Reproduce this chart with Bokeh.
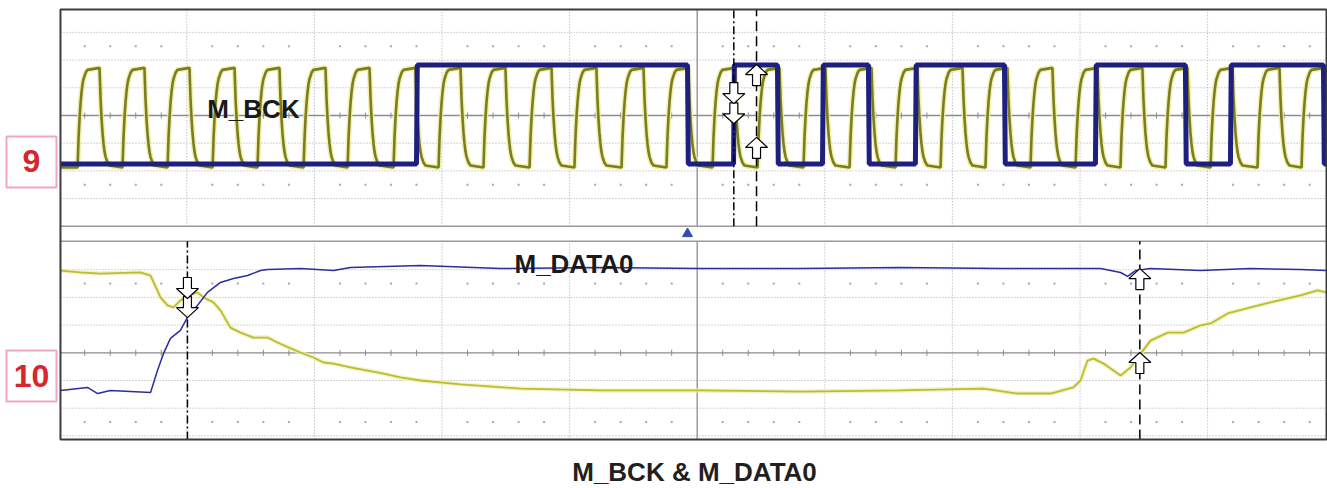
import numpy as np
from bokeh.plotting import figure
from bokeh.models import Range1d, Label
from bokeh.embed import file_html
from bokeh.resources import INLINE

# ------------------------------------------------------------------
# DATA  (x in scope divisions, centre = 0; y in divisions of each channel)
# ------------------------------------------------------------------
# Channel 9 (upper): M_BCK clock (olive) - start of each rising / falling edge
BCK_RISE = [-4.856, -4.504, -4.151, -3.798, -3.446, -3.085, -2.740, -2.380,
            -2.027, -1.675, -1.314, -0.962, -0.593, -0.241, 0.120, 0.473,
            0.833, 1.194, 1.554, 1.907, 2.259, 2.612, 2.965, 3.317, 3.670,
            4.023, 4.391, 4.736]
BCK_FALL = [-4.684, -4.332, -3.979, -3.626, -3.274, -2.913, -2.568, -2.208,
            -1.855, -1.503, -1.142, -0.790, -0.421, -0.069, 0.292, 0.645,
            1.005, 1.366, 1.726, 2.079, 2.431, 2.784, 3.137, 3.489, 3.842,
            4.195, 4.563, 4.908]
BCK_HIGH = 1.72
BCK_LOW = -1.88

# Channel 9 (upper): second (navy) trace - toggling edges, starts low
NAVY_EDGES = [-2.200, -0.076, 0.285, 0.629, 0.982, 1.342, 1.710, 2.408,
              3.121, 3.826, 4.179, 4.908]
NAVY_HIGH = 1.82
NAVY_LOW = -1.75

# Channel 10 (lower): navy trace
D_NAVY_T = [-4.989, -4.778, -4.699, -4.598, -4.284, -4.230, -4.183, -4.128,
            -4.050, -3.987, -3.917, -3.838, -3.736, -3.634, -3.524, -3.422,
            -3.367, -3.109, -2.850, -2.717, -2.168, -1.542, -0.758, 0.026,
            0.810, 1.594, 2.377, 3.161, 3.318, 3.373, 3.435, 3.553, 3.945,
            4.336, 4.728, 4.930]
D_NAVY_V = [-1.36, -1.25, -1.47, -1.36, -1.43, -0.64, -0.03, 0.52,
            0.81, 1.35, 1.71, 2.18, 2.54, 2.68, 2.79, 2.97,
            3.01, 3.04, 2.97, 3.08, 3.15, 3.04, 3.08, 3.04,
            3.04, 3.08, 3.04, 3.04, 2.90, 2.76, 2.97, 3.04, 2.97,
            3.04, 3.01, 2.97]

# Channel 10 (lower): yellow trace
D_OLIVE_T = [-4.989, -4.833, -4.676, -4.363, -4.284, -4.206, -4.151, -4.104,
             -4.050, -3.987, -3.917, -3.869, -3.791, -3.736, -3.658, -3.579,
             -3.477, -3.367, -3.289, -3.187, -3.109, -3.007, -2.929, -2.850,
             -2.717, -2.584, -2.458, -2.325, -2.168, -1.855, -1.385, -0.758,
             0.026, 0.810, 1.594, 2.245, 2.510, 2.769, 2.949, 3.004, 3.059,
             3.106, 3.184, 3.318, 3.396, 3.475, 3.553, 3.687, 3.812, 3.945,
             4.024, 4.157, 4.337, 4.493, 4.728, 4.861, 4.930]
D_OLIVE_V = [2.97, 2.90, 2.86, 2.90, 2.79, 2.00, 1.71, 1.64,
             1.89, 2.07, 2.18, 2.00, 1.82, 1.53, 0.91, 0.73,
             0.55, 0.55, 0.37, 0.16, 0.01, -0.17, -0.35, -0.39,
             -0.53, -0.64, -0.75, -0.89, -1.00, -1.14, -1.29, -1.36,
             -1.36, -1.40, -1.36, -1.29, -1.47, -1.47, -1.25, -1.00, -0.28,
             -0.21, -0.39, -0.82, -0.53, -0.03, 0.44, 0.73, 0.73, 0.99,
             1.06, 1.42, 1.64, 1.82, 2.07, 2.25, 2.18]

# cursors (dash-dot, dashed)
CURSOR_UPPER = [0.287, 0.465]
CURSOR_LOWER = [-3.995, 3.469]
# cursor markers: tip heights (channel divisions)
UP_DOWN_TIPS = [-0.30, 0.43]      # down-pointing markers on dash-dot cursor (upper)
UP_UP_TIPS = [1.84, -0.79]        # up-pointing markers on dashed cursor (upper)
LO_DOWN_TIPS = [1.27, 1.96]       # lower, dash-dot cursor
LO_UP_TIPS = [3.04, 0.01]         # lower, dashed cursor
TRIGGER_X = -0.076

TITLE = "M_BCK & M_DATA0"
NAME_UP = "M_BCK"
NAME_LO = "M_DATA0"
CH_UP = "9"
CH_LO = "10"

# ------------------------------------------------------------------
# layout constants
# ------------------------------------------------------------------
W, H = 1327, 488
PXD = 127.6                      # px per horizontal division
CX = 696.7                       # px of horizontal centre
SY = 27.7                        # px per vertical division
CY = 352.3                       # px of lower channel centre
XL, XR = -CX / PXD, (W - CX) / PXD
YT, YB = CY / SY, (CY - H) / SY
XMIN, XMAX = -4.99, 4.932
U = 8.567                        # upper channel centre
UP_BOT, UP_TOP = U - 4, 12.394
LO_BOT, LO_TOP = -3.13, 4.029
DX = 1.0 / PXD
DY = 1.0 / SY

p = figure(width=W, height=H, output_backend="svg", toolbar_location=None,
           x_range=Range1d(XL, XR), y_range=Range1d(YB, YT),
           x_axis_location=None, y_axis_location=None, min_border=0)
p.min_border_left = p.min_border_right = p.min_border_top = p.min_border_bottom = 0
p.xgrid.visible = False
p.ygrid.visible = False
p.outline_line_color = None
p.background_fill_color = "white"
p.border_fill_color = "white"

GRID_DOT = "#a8a8a8"
GRID_SOLID = "#8c8c8c"

# ---- graticule ----
for c, lo, hi in [(U, UP_BOT, UP_TOP), (0.0, LO_BOT, LO_TOP)]:
    hy = [c + k for k in (-3, -2, -1, 1, 2, 3)]
    p.segment(x0=[XMIN] * 6, x1=[XMAX] * 6, y0=hy, y1=hy,
              line_color=GRID_DOT, line_width=1, line_dash="1 2")
    vx = [k for k in (-4, -3, -2, -1, 1, 2, 3, 4)]
    p.segment(x0=vx, x1=vx, y0=[lo] * 8, y1=[hi] * 8,
              line_color=GRID_DOT, line_width=1, line_dash="1 2")
    p.segment(x0=[XMIN, 0], x1=[XMAX, 0], y0=[c, lo], y1=[c, hi],
              line_color=GRID_SOLID, line_width=1.3)
    mx = [round(v, 2) for v in np.arange(-4.8, 4.85, 0.2) if abs(v - round(v)) > 0.05]
    p.scatter(x=mx * 2, y=[c + 2.5] * len(mx) + [c - 2.5] * len(mx),
              marker="square", size=2, color=GRID_DOT, line_color=None)
    p.segment(x0=mx, x1=mx, y0=[c - 0.11] * len(mx), y1=[c + 0.11] * len(mx),
              line_color=GRID_SOLID, line_width=1)

# separators between the two panels
p.segment(x0=[XMIN, XMIN], x1=[XMAX, XMAX], y0=[UP_BOT, LO_TOP], y1=[UP_BOT, LO_TOP],
          line_color="#9a9a9a", line_width=1.5)

# ---- upper traces ----
EDGE_T = [0, 1, 2, 3, 4, 5, 6, 8, 10]           # px after an edge (slow edge shape)
EDGE_F = [0, .30, .50, .65, .76, .84, .89, .95, .98]

bx, by = [XMIN], [BCK_LOW]
for r, f in zip(BCK_RISE, BCK_FALL):
    for t, fr in zip(EDGE_T, EDGE_F):
        bx.append(r + t / PXD); by.append(BCK_LOW + (BCK_HIGH - BCK_LOW) * fr)
    bx.append(f); by.append(BCK_HIGH)
    for t, fr in zip(EDGE_T, EDGE_F):
        bx.append(f + t / PXD); by.append(BCK_HIGH - (BCK_HIGH - BCK_LOW) * fr)
pts = [(x, y) for x, y in zip(bx, by) if x <= XMAX]
bx = [q[0] for q in pts]
by = [q[1] + U for q in pts]
p.line(bx, by, line_color="#ecec9c", line_width=5.5, line_alpha=0.8)
p.line(bx, by, line_color="#7d7d1e", line_width=2.6)

nx, ny = [XMIN], [NAVY_LOW]
lvl = NAVY_LOW
for e in NAVY_EDGES:
    nx.append(e); ny.append(lvl)
    lvl = NAVY_HIGH if lvl == NAVY_LOW else NAVY_LOW
    nx.append(e + 0.8 / PXD); ny.append(lvl)
nx.append(XMAX); ny.append(lvl)
p.line(nx, [v + U for v in ny], line_color="#1e2080", line_width=5)

# ---- lower traces ----
p.line(D_OLIVE_T, D_OLIVE_V, line_color="#f0f0b8", line_width=4.5, line_alpha=0.8)
p.line(D_OLIVE_T, D_OLIVE_V, line_color="#bcbc34", line_width=1.8)
p.line(D_NAVY_T, D_NAVY_V, line_color="#2c2ca0", line_width=1.5)

# ---- trigger marker ----
p.scatter(x=[TRIGGER_X], y=[(UP_BOT + LO_TOP) / 2], marker="triangle", size=10,
          fill_color="#2f4fb0", line_color="#2f4fb0")

# ---- cursors ----
p.segment(x0=[CURSOR_UPPER[0]], x1=[CURSOR_UPPER[0]], y0=[UP_BOT], y1=[UP_TOP],
          line_color="black", line_width=1.5, line_dash="8 3 2 3")
p.segment(x0=[CURSOR_UPPER[1]], x1=[CURSOR_UPPER[1]], y0=[UP_BOT], y1=[UP_TOP],
          line_color="black", line_width=1.5, line_dash="10 5")
p.segment(x0=[CURSOR_LOWER[0]], x1=[CURSOR_LOWER[0]], y0=[LO_BOT], y1=[LO_TOP],
          line_color="black", line_width=1.5, line_dash="8 3 2 3")
p.segment(x0=[CURSOR_LOWER[1]], x1=[CURSOR_LOWER[1]], y0=[LO_BOT], y1=[LO_TOP],
          line_color="black", line_width=1.5, line_dash="10 5")

# ---- cursor markers (hollow block arrows) ----
HW, HH, SW, SL = 11, 10, 4, 11


def arrow(x, tip, down):
    s = 1 if down else -1
    xs = [x, x - HW * DX, x - SW * DX, x - SW * DX, x + SW * DX, x + SW * DX, x + HW * DX]
    ys = [tip, tip + s * HH * DY, tip + s * HH * DY, tip + s * (HH + SL) * DY,
          tip + s * (HH + SL) * DY, tip + s * HH * DY, tip + s * HH * DY]
    return xs, ys


AX, AY = [], []
for tip in UP_DOWN_TIPS:
    a = arrow(CURSOR_UPPER[0], tip + U, True); AX.append(a[0]); AY.append(a[1])
for tip in UP_UP_TIPS:
    a = arrow(CURSOR_UPPER[1], tip + U, False); AX.append(a[0]); AY.append(a[1])
for tip in LO_DOWN_TIPS:
    a = arrow(CURSOR_LOWER[0], tip, True); AX.append(a[0]); AY.append(a[1])
for tip in LO_UP_TIPS:
    a = arrow(CURSOR_LOWER[1], tip, False); AX.append(a[0]); AY.append(a[1])
p.patches(AX, AY, fill_color="white", line_color="black", line_width=1.2)

# ---- scope frame ----
p.quad(left=[XMIN], right=[XMAX], bottom=[LO_BOT], top=[UP_TOP],
       fill_color=None, line_color="#3c3c3c", line_width=2)

# ---- channel badges ----
BX0, BX1 = XMIN - 54 * DX, XMIN - 4 * DX
p.quad(left=[BX0, BX0], right=[BX1, BX1], bottom=[5.968, -1.758], top=[7.809, 0.083],
       fill_color="white", line_color="#f3a6c4", line_width=2)
BXC = (BX0 + BX1) / 2
for txt, yb in [(CH_UP, 6.93), (CH_LO, -0.83)]:
    p.add_layout(Label(x=BXC, y=yb, text=txt, text_align="center",
                       text_baseline="alphabetic", text_font="Liberation Sans",
                       text_font_style="bold", text_font_size="32px",
                       text_color="#d7262e"))

# ---- names and title ----
for txt, x, y in [(NAME_UP, -3.84, 8.795), (NAME_LO, -1.432, 3.209)]:
    p.add_layout(Label(x=x, y=y, text=txt, text_align="left",
                       text_baseline="alphabetic", text_font="Liberation Sans",
                       text_font_style="bold", text_font_size="26px",
                       text_color="#1a1a1a"))
p.add_layout(Label(x=-0.021, y=-4.30, text=TITLE, text_align="center",
                   text_baseline="alphabetic", text_font="Liberation Sans",
                   text_font_style="bold", text_font_size="26px",
                   text_color="#231f20"))

open("out.html", "w").write(file_html(p, INLINE))
